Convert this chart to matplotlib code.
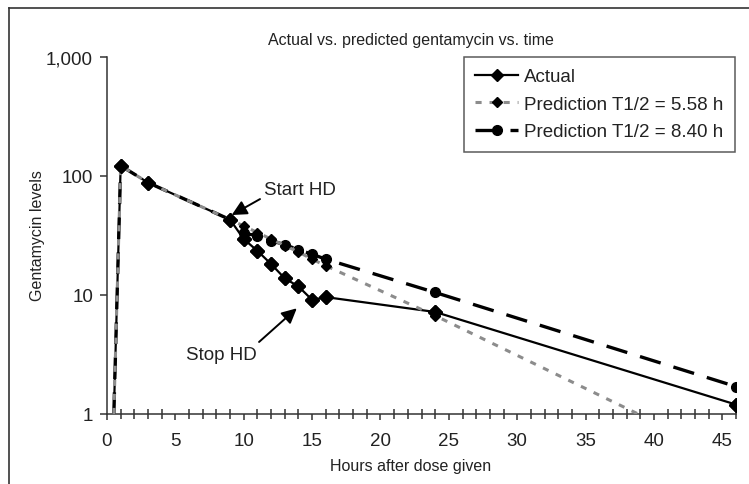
import matplotlib
matplotlib.use("Agg")
import matplotlib.pyplot as plt
from matplotlib.ticker import FixedLocator, MultipleLocator, FuncFormatter, NullLocator
from matplotlib.lines import Line2D

# ---- data ----
t_actual = [0.5, 1, 3, 9, 10, 11, 12, 13, 14, 15, 16, 24, 46]
actual = [1.0, 122, 88, 43, 29.5, 23.5, 18.2, 13.8, 11.8, 9.1, 9.6, 7.2, 1.2]

t_pred_558 = [0.5, 1, 3, 9, 10, 11, 12, 13, 14, 15, 16, 24, 46]
pred_558 = [1.0, 122, 88, 43, 38, 33.5, 29.5, 26.0, 23.0, 20.0, 17.6, 6.7, 0.4]

t_pred_840 = [0.5, 1, 3, 9, 10, 11, 12, 13, 14, 15, 16, 24, 46]
pred_840 = [1.0, 122, 88, 43, 33, 31.5, 28.6, 26.5, 24.0, 22.0, 20.0, 10.5, 1.7]

labels = ["Actual", "Prediction T1/2 = 5.58 h", "Prediction T1/2 = 8.40 h"]
title = "Actual vs. predicted gentamycin vs. time"
xlabel = "Hours after dose given"
ylabel = "Gentamycin levels"
yticks = [1, 10, 100, 1000]
xticks = [0, 5, 10, 15, 20, 25, 30, 35, 40, 45]

plt.rcParams['font.family'] = ['Liberation Sans', 'DejaVu Sans']
TXT = '#222222'
GRAY = '#8c8c8c'

fig = plt.figure(figsize=(7.49, 4.85), dpi=100)
ax = fig.add_axes([107/749, 1-415/485, (736-107)/749, (415-58)/485])

ax.plot(t_actual, actual, color='black', lw=1.6, marker='D', ms=7,
        mfc='black', mec='black', zorder=2, label=labels[0], clip_on=True,
        markevery=list(range(1, len(t_actual))))
ax.plot(t_pred_840, pred_840, color='black', lw=2.4, dashes=(6.5, 4.0),
        marker='o', ms=7, mfc='black', mec='black', zorder=3, label=labels[2],
        markevery=list(range(4, len(t_pred_840))))
ax.plot(t_pred_558, pred_558, color=GRAY, lw=2.2, dashes=(2.0, 2.6),
        marker='D', ms=5, mfc='black', mec='black', zorder=4, label=labels[1],
        markevery=list(range(4, len(t_pred_558))))
# Actual markers on top
ax.plot(t_actual[1:], actual[1:], ls='none', marker='D', ms=7,
        mfc='black', mec='black', zorder=6)

ax.set_yscale('log')
ax.set_ylim(1, 1000)
ax.set_xlim(0, 46)
ax.yaxis.set_major_locator(FixedLocator(yticks))
ax.yaxis.set_minor_locator(NullLocator())
ax.yaxis.set_major_formatter(FuncFormatter(lambda v, p: f"{int(round(v)):,}"))
ax.xaxis.set_major_locator(FixedLocator(xticks))
ax.xaxis.set_minor_locator(MultipleLocator(1))

for s in ['top', 'right']:
    ax.spines[s].set_visible(False)
for s in ['left', 'bottom']:
    ax.spines[s].set_color('#333333')
    ax.spines[s].set_linewidth(1.1)

ax.tick_params(axis='x', which='major', direction='out', length=4, width=1.1,
               color='#333333', labelsize=13.5, labelcolor=TXT, pad=9)
ax.tick_params(axis='x', which='minor', direction='inout', length=7, width=1.1,
               color='#333333')
ax.tick_params(axis='y', which='major', direction='out', length=5, width=1.1,
               color='#333333', labelsize=13.5, labelcolor=TXT, pad=5)

fig.text(411/749, 1-40/485, title, ha='center', va='center', fontsize=11.5, color=TXT)
fig.text(411/749, 1-467/485, xlabel, ha='center', va='center', fontsize=11.5, color=TXT)
fig.text(38/749, 1-236/485, ylabel, ha='center', va='center', rotation=90,
         fontsize=11.5, color=TXT)

handles = [
    Line2D([], [], color='black', lw=1.6, marker='D', ms=6.5, mfc='black'),
    Line2D([], [], color=GRAY, lw=2.2, dashes=(2.0, 2.6), marker='D', ms=5, mfc='black', mec='black'),
    Line2D([], [], color='black', lw=2.4, dashes=(6.5, 4.0), marker='o', ms=7, mfc='black'),
]
leg = ax.legend(handles, labels, loc='upper right', bbox_to_anchor=(0.998, 1.0),
                fontsize=13.5, frameon=True, fancybox=False, handlelength=2.3,
                handletextpad=0.3, borderpad=0.6, labelspacing=0.55,
                borderaxespad=0)
leg.get_frame().set_edgecolor('#333333')
leg.get_frame().set_linewidth(1.1)
for t in leg.get_texts():
    t.set_color(TXT)

arrow_kw = dict(arrowstyle='-|>,head_length=0.9,head_width=0.45',
                color='black', lw=1.4, shrinkA=0, shrinkB=0)
ax.annotate("", xy=(9.12, 47), xytext=(11.19, 64), arrowprops=arrow_kw)
ax.text(14.1, 77.6, "Start HD", ha='center', va='center', fontsize=13.5, color=TXT)
ax.annotate("", xy=(13.88, 7.73), xytext=(11.12, 4.03), arrowprops=arrow_kw)
ax.text(8.34, 3.19, "Stop HD", ha='center', va='center', fontsize=13.5, color=TXT)

# figure frame: left and top lines
fig.add_artist(Line2D([9/749, 9/749], [0, 1-9/485], transform=fig.transFigure,
                      color='#333333', lw=1.2))
fig.add_artist(Line2D([9/749, 1], [1-9/485, 1-9/485], transform=fig.transFigure,
                      color='#333333', lw=1.2))

fig.savefig('out.png', dpi=100)
